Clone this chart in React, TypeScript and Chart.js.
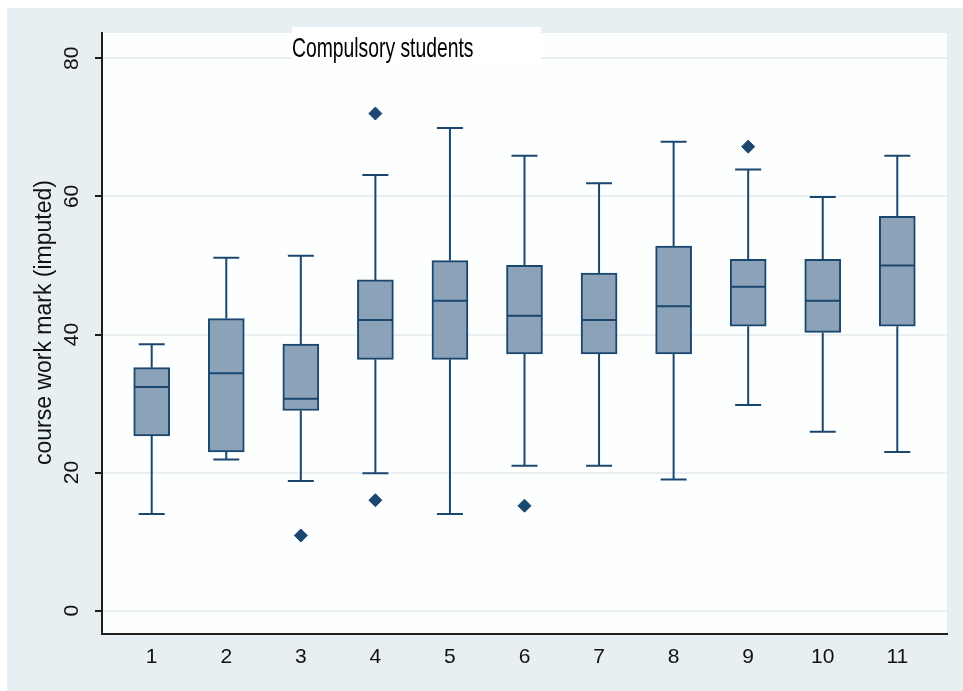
import React, { useEffect, useRef } from "react";
import { Chart, registerables } from "chart.js";

Chart.register(...registerables);

const categories = [1, 2, 3, 4, 5, 6, 7, 8, 9, 10, 11];
const lowerWhisker = [14.0, 21.9, 18.8, 19.9, 14.0, 21.0, 21.0, 19.0, 29.8, 25.9, 23.0];
const q1Values = [25.3, 23.0, 29.0, 36.4, 36.4, 37.2, 37.2, 37.2, 41.2, 40.3, 41.2];
const medianValues = [32.4, 34.4, 30.7, 42.1, 44.9, 42.7, 42.1, 44.1, 46.9, 44.9, 50.0];
const q3Values = [35.2, 42.3, 38.6, 47.9, 50.7, 50.0, 48.9, 52.8, 50.9, 50.9, 57.1];
const upperWhisker = [38.6, 51.1, 51.4, 63.1, 69.9, 65.9, 61.9, 67.9, 63.9, 59.9, 65.9];
const outlierX = [3, 4, 4, 6, 9];
const outlierY = [10.9, 72.0, 16.0, 15.2, 67.2];
const yTickValues = [0, 20, 40, 60, 80];

const chartTitle = "Compulsory students";
const yAxisTitle = "course work mark (imputed)";

const NAVY = "#1a476f";
const BOX_FILL = "#8ca2b8";
const FONT = "'Liberation Sans', Arial, sans-serif";

const decorPlugin = {
  id: "decor",
  beforeDraw(chart: any) {
    const { ctx, width, height, chartArea } = chart;
    ctx.save();
    ctx.fillStyle = "#e8eff2";
    ctx.fillRect(0, 0, width, height);
    ctx.fillStyle = "#fdfefe";
    ctx.fillRect(chartArea.left, chartArea.top, chartArea.right - chartArea.left, chartArea.bottom - chartArea.top);
    ctx.restore();
  },
  beforeDatasetsDraw(chart: any) {
    const { ctx } = chart;
    ctx.save();
    // title box
    ctx.fillStyle = "#ffffff";
    ctx.fillRect(285, 19, 249, 33);
    ctx.fillStyle = "#000000";
    ctx.font = `28px ${FONT}`;
    ctx.textBaseline = "alphabetic";
    ctx.textAlign = "left";
    ctx.translate(285, 49);
    ctx.scale(0.69, 1);
    ctx.fillText(chartTitle, 0, 0);
    ctx.restore();

    // y axis title
    ctx.save();
    ctx.fillStyle = "#111111";
    ctx.font = `23px ${FONT}`;
    ctx.textAlign = "center";
    ctx.textBaseline = "middle";
    ctx.translate(38, 314.6);
    ctx.rotate(-Math.PI / 2);
    ctx.fillText(yAxisTitle, 0, 0);
    ctx.restore();
  },
  afterDatasetsDraw(chart: any) {
    const { ctx } = chart;
    const xs = chart.scales.x;
    const ys = chart.scales.y;
    ctx.save();
    ctx.strokeStyle = NAVY;
    ctx.lineWidth = 2;
    const capHalf = 13;
    const boxHalf = 17;
    categories.forEach((c, i) => {
      const x = xs.getPixelForValue(c);
      const yLo = ys.getPixelForValue(lowerWhisker[i]);
      const yQ1 = ys.getPixelForValue(q1Values[i]);
      const yMed = ys.getPixelForValue(medianValues[i]);
      const yQ3 = ys.getPixelForValue(q3Values[i]);
      const yHi = ys.getPixelForValue(upperWhisker[i]);
      ctx.beginPath();
      ctx.moveTo(x, yQ1);
      ctx.lineTo(x, yLo);
      ctx.moveTo(x - capHalf, yLo);
      ctx.lineTo(x + capHalf, yLo);
      ctx.moveTo(x, yQ3);
      ctx.lineTo(x, yHi);
      ctx.moveTo(x - capHalf, yHi);
      ctx.lineTo(x + capHalf, yHi);
      ctx.moveTo(x - boxHalf, yMed);
      ctx.lineTo(x + boxHalf, yMed);
      ctx.stroke();
    });
    ctx.restore();
  },
};

export default function App() {
  const canvasRef = useRef<HTMLCanvasElement | null>(null);

  useEffect(() => {
    if (!canvasRef.current) return;
    const chart = new Chart(canvasRef.current, {
      type: "bar",
      data: {
        datasets: [
          {
            type: "bar",
            data: categories.map((c, i) => ({ x: c, y: [q1Values[i], q3Values[i]] })) as any,
            backgroundColor: BOX_FILL,
            borderColor: NAVY,
            borderWidth: 2,
            borderSkipped: false,
            barThickness: 36,
            grouped: false,
          } as any,
          {
            type: "scatter",
            data: outlierX.map((x, i) => ({ x, y: outlierY[i] })),
            pointStyle: "rectRot",
            pointRadius: 6.5,
            backgroundColor: NAVY,
            borderColor: NAVY,
            borderWidth: 1,
            showLine: false,
          } as any,
        ],
      },
      options: {
        animation: false,
        responsive: false,
        devicePixelRatio: 1,
        layout: { padding: { top: 25, right: 16, left: 0, bottom: 0 } },
        plugins: { legend: { display: false }, tooltip: { enabled: false }, title: { display: false } },
        scales: {
          x: {
            type: "linear",
            min: 1 / 3,
            max: 11 + 2 / 3,
            offset: false,
            grid: { display: false, drawTicks: false },
            border: { display: true, color: "#1e1e1e", width: 2 },
            ticks: {
              color: "#111111",
              font: { size: 21, family: FONT },
              padding: 11,
              maxRotation: 0,
              autoSkip: false,
              callback: (v: any) => String(v),
            },
            afterBuildTicks: (s: any) => {
              s.ticks = categories.map((v) => ({ value: v }));
            },
            afterFit: (s: any) => {
              s.height = 57;
            },
          },
          y: {
            type: "linear",
            min: -3.37,
            max: 83.66,
            grid: { color: "#e9eff3", lineWidth: 2, tickColor: "#1e1e1e", tickLength: 7, tickWidth: 2 },
            border: { display: true, color: "#1e1e1e", width: 2 },
            ticks: {
              color: "#111111",
              font: { size: 21, family: FONT },
              minRotation: 90,
              maxRotation: 90,
              crossAlign: "center",
              padding: 11,
              callback: (v: any) => String(v),
            },
            afterBuildTicks: (s: any) => {
              s.ticks = yTickValues.map((v) => ({ value: v }));
            },
            afterFit: (s: any) => {
              s.width = 95;
            },
          },
        },
      } as any,
      plugins: [decorPlugin],
    });
    return () => chart.destroy();
  }, []);

  return (
    <div style={{ position: "absolute", left: 7, top: 8, width: 956, height: 683 }}>
      <canvas ref={canvasRef} width={956} height={683} style={{ display: "block" }} />
    </div>
  );
}
